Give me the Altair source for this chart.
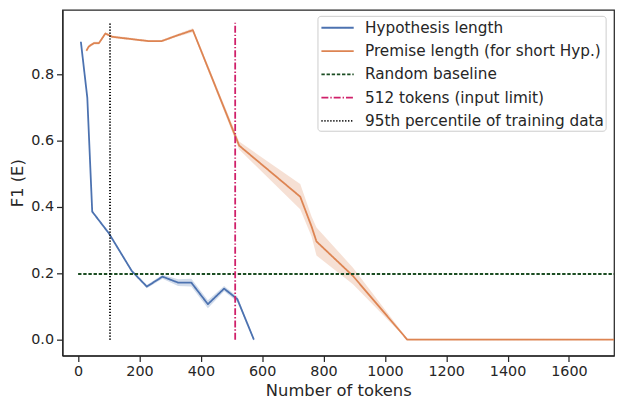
import altair as alt
import pandas as pd

# ---- data ----
hyp_x = [9, 30, 46, 100, 175, 224, 275, 326, 369, 423, 476, 519, 573]
hyp_y = [0.898, 0.729, 0.386, 0.321, 0.207, 0.160, 0.190, 0.172, 0.172, 0.107, 0.154, 0.122, 0.0]
hyp_ci = [0.003, 0.003, 0.003, 0.004, 0.004, 0.005, 0.006, 0.010, 0.012, 0.012, 0.008, 0.008, 0.004]

prem_x = [27, 35, 52, 68, 89, 111, 229, 272, 326, 374, 525, 724, 761, 777, 896, 1073, 1747]
prem_y = [0.871, 0.884, 0.894, 0.894, 0.923, 0.913, 0.900, 0.900, 0.918, 0.933, 0.585,
          0.431, 0.341, 0.296, 0.192, 0.0, 0.0]
prem_ci = [0.004, 0.004, 0.004, 0.004, 0.004, 0.004, 0.003, 0.003, 0.004, 0.006, 0.012,
           0.038, 0.030, 0.042, 0.025, 0.003, 0.002]

baseline_y = 0.198
baseline_x = [0, 1747]
input_limit_x = 512
p95_x = 104
vline_y = [0, 0.955]

names = ["Hypothesis length", "Premise length (for short Hyp.)", "Random baseline",
         "512 tokens (input limit)", "95th percentile of training data"]
colors = ["#4c72b0", "#dd8452", "#1b4d22", "#d0206a", "#000000"]
dashes = [[1, 0], [1, 0], [3.4, 1.8], [7, 2, 1.4, 2], [1.2, 1.8]]
widths = [1.8, 1.8, 1.0, 1.0, 1.0]

rows = []
for x, y, c in zip(hyp_x, hyp_y, hyp_ci):
    rows.append({"series": names[0], "x": x, "y": y, "lo": y - c, "hi": y + c})
for x, y, c in zip(prem_x, prem_y, prem_ci):
    rows.append({"series": names[1], "x": x, "y": y, "lo": max(y - c, 0), "hi": y + c})
lines_df = pd.DataFrame(rows)

hline_df = pd.DataFrame({"series": [names[2]], "y": [baseline_y],
                         "x0": [baseline_x[0]], "x1": [baseline_x[1]]})
vline_df = pd.DataFrame({"series": [names[3], names[4]], "x": [input_limit_x, p95_x],
                         "y0": [vline_y[0]] * 2, "y1": [vline_y[1]] * 2})

legend = alt.Legend(
    title=None, orient="none", legendX=257.5, legendY=6,
    symbolType="M-0.8,0H2.46", symbolSize=400,
    labelFontSize=15.4, labelFont="DejaVu Sans", labelColor="#262626", labelLimit=0,
    padding=1, rowPadding=3.5, labelOffset=25,
    strokeColor="#cccccc", fillColor="white", cornerRadius=3,
)

color_scale = alt.Scale(domain=names, range=colors)
dash_scale = alt.Scale(domain=names, range=dashes)
width_scale = alt.Scale(domain=names, range=widths)

xscale = alt.Scale(domain=[-51, 1747], nice=False, zero=False)
yscale = alt.Scale(domain=[-0.0478, 0.994], nice=False, zero=False)

xenc = alt.X("x:Q", scale=xscale, title="Number of tokens",
             axis=alt.Axis(values=list(range(0, 1601, 200)), format="d", titlePadding=5))
yenc = alt.Y("y:Q", scale=yscale, title="F1 (E)",
             axis=alt.Axis(values=[0, 0.2, 0.4, 0.6, 0.8], format=".1f", titlePadding=5))

col = alt.Color("series:N", scale=color_scale, legend=legend)
dash = alt.StrokeDash("series:N", scale=dash_scale, legend=legend)
sw = alt.StrokeWidth("series:N", scale=width_scale, legend=legend)

band = alt.Chart(lines_df).mark_area(opacity=0.25).encode(
    x=xenc, y=alt.Y("lo:Q", scale=yscale), y2="hi:Q",
    fill=alt.Fill("series:N", scale=alt.Scale(domain=names[:2], range=colors[:2]), legend=None),
    detail="series:N",
)

lines = alt.Chart(lines_df).mark_line(strokeJoin="round").encode(
    x=xenc, y=yenc, color=col, strokeDash=dash, strokeWidth=sw,
)

hline = alt.Chart(hline_df).mark_rule().encode(
    x=alt.X("x0:Q", scale=xscale), x2="x1:Q", y=alt.Y("y:Q", scale=yscale),
    color=col, strokeDash=dash, strokeWidth=sw,
)

vlines = alt.Chart(vline_df).mark_rule().encode(
    x=alt.X("x:Q", scale=xscale), y=alt.Y("y0:Q", scale=yscale), y2="y1:Q",
    color=col, strokeDash=dash, strokeWidth=sw,
)

chart = alt.layer(band, lines, hline, vlines).properties(
    width=557, height=349,
    padding={"left": 55, "top": 0, "right": 5, "bottom": 46},
    autosize=alt.AutoSizeParams(type="none"),
).configure_view(
    stroke="#262626", strokeWidth=1.25
).configure_axis(
    labelFont="DejaVu Sans", labelFontSize=14.5, labelColor="#262626",
    titleFont="DejaVu Sans", titleFontSize=16.5, titleColor="#262626",
    titleFontWeight="normal", tickColor="#262626", tickSize=6, tickWidth=1.25,
    domainColor="#262626", domainWidth=1.25, grid=False, labelPadding=3,
)

chart.save("out.html", embed_options={"renderer": "svg", "actions": False})
